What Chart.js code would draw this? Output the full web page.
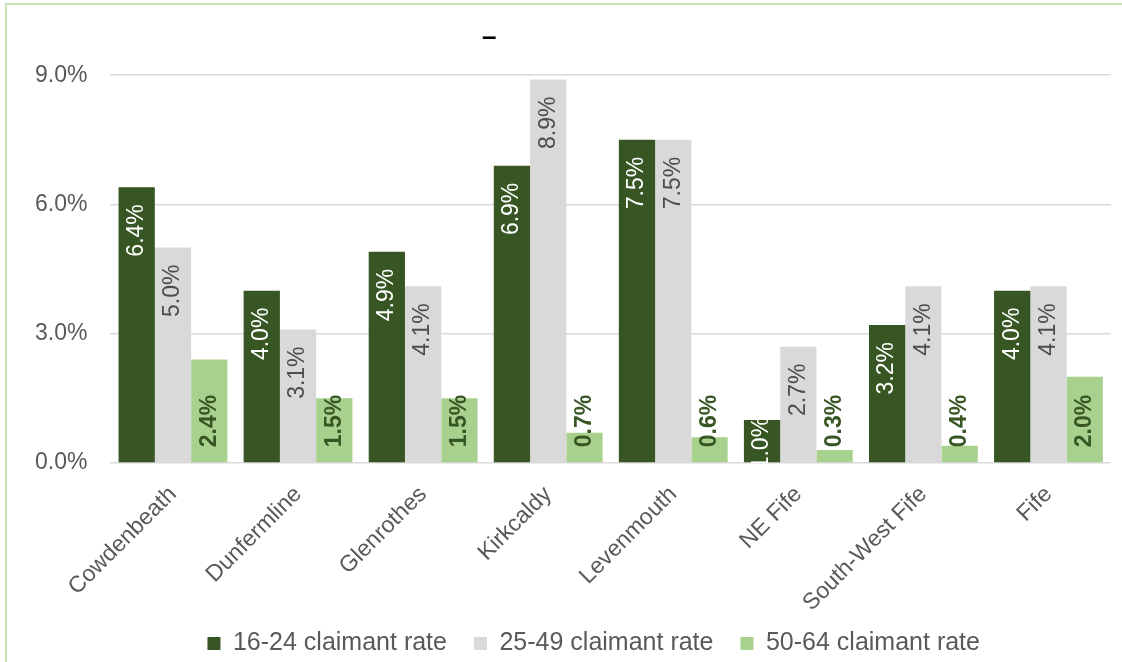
<!DOCTYPE html>
<html>
<head>
<meta charset="utf-8">
<script src="https://cdn.jsdelivr.net/npm/chart.js@4/dist/chart.umd.min.js"></script>
<style>
  html, body { margin: 0; padding: 0; background: #fff; }
  #wrap { position: relative; width: 1122px; height: 662px; overflow: hidden; }
  #frame {
    position: absolute; left: 5px; top: 3px; width: 1200px; height: 700px;
    border-left: 2px solid #c9e2b8; border-top: 2px solid #c9e2b8;
    pointer-events: none;
  }
  canvas { position: absolute; left: 0; top: 0; }
</style>
</head>
<body>
<div id="wrap">
  <canvas id="rates" width="1122" height="662"></canvas>
  <div id="frame"></div>
</div>
<script>
    const areas = ["Cowdenbeath", "Dunfermline", "Glenrothes", "Kirkcaldy", "Levenmouth", "NE Fife", "South-West Fife", "Fife"]
    const rate1624 = [6.4, 4.0, 4.9, 6.9, 7.5, 1.0, 3.2, 4.0]
    const rate2549 = [5.0, 3.1, 4.1, 8.9, 7.5, 2.7, 4.1, 4.1]
    const rate5064 = [2.4, 1.5, 1.5, 0.7, 0.6, 0.3, 0.4, 2.0]
    const yTicks = [0, 3, 6, 9]

    const FONT = "'Liberation Sans', Arial, sans-serif"
    Chart.defaults.font.family = FONT

    // how each series writes its value inside the bar
    const labelStyle = [
        { color: '#ffffff', weight: 'normal', at: 'end' },
        { color: '#4d4d4d', weight: 'normal', at: 'end' },
        { color: '#375623', weight: 'bold', at: 'base' }
    ]

    const barLabels = {
        id: 'barLabels',
        afterDatasetsDraw(chart) {
            const ctx = chart.ctx
            const area = chart.chartArea
            chart.data.datasets.forEach((ds, i) => {
                const style = labelStyle[i]
                const meta = chart.getDatasetMeta(i)
                meta.data.forEach((bar, j) => {
                    const text = ds.data[j].toFixed(1) + '%'
                    ctx.save()
                    ctx.beginPath()
                    ctx.rect(area.left, area.top, area.right - area.left, area.bottom - area.top)
                    ctx.clip()
                    ctx.font = `${style.weight} 23px ${FONT}`
                    ctx.fillStyle = style.color
                    ctx.textBaseline = 'middle'
                    const w = ctx.measureText(text).width
                    const len = bar.base - bar.y
                    ctx.translate(bar.x, bar.base)
                    ctx.rotate(-Math.PI / 2)
                    if (style.at === 'base') {
                        ctx.textAlign = 'left'
                        ctx.fillText(text, 15, 0)
                    } else {
                        ctx.textAlign = 'right'
                        // short bars: push the label up to the bar top
                        const end = (w + 17 <= len) ? len - 17 : len + 3
                        ctx.fillText(text, end, 0)
                    }
                    ctx.restore()
                })
            })
        }
    }

    const layoutTweaks = {
        id: 'layoutTweaks',
        afterLayout(chart) {
            // legend row sits a little left of the plot centre
            chart.legend.right -= 34
            // let the long rotated names run down past the axis box
            chart.scales.x.bottom += 30
        }
    }

    const ctx = document.querySelector('#rates').getContext('2d')

    new Chart(ctx, {
        type: 'bar',
        data: {
            labels: areas,
            datasets: [
                { label: '16-24 claimant rate', data: rate1624, backgroundColor: '#375623' },
                { label: '25-49 claimant rate', data: rate2549, backgroundColor: '#d9d9d9' },
                { label: '50-64 claimant rate', data: rate5064, backgroundColor: '#a9d18e' }
            ]
        },
        options: {
            responsive: false,
            animation: false,
            categoryPercentage: 0.87,
            barPercentage: 1,
            layout: { padding: { left: 12, right: 11, top: 0, bottom: -4 } },
            plugins: {
                title: {
                    display: true,
                    text: '\u2013' + '\u00a0'.repeat(20),
                    color: '#000',
                    font: { size: 26, weight: 'bold' },
                    padding: { top: 22, bottom: 22 }
                },
                legend: {
                    position: 'bottom',
                    fullSize: false,
                    labels: {
                        boxWidth: 13,
                        boxHeight: 13,
                        padding: 27,
                        color: '#595959',
                        font: { size: 25 }
                    }
                },
                tooltip: { enabled: false }
            },
            scales: {
                x: {
                    grid: { display: false },
                    border: { display: false },
                    ticks: {
                        color: '#595959',
                        font: { size: 23 },
                        maxRotation: 45,
                        minRotation: 45,
                        autoSkip: false,
                        padding: 10
                    },
                    afterFit: (scale) => {
                        // rotated names may hang past the plot edges
                        scale.paddingLeft = 0
                        scale.paddingRight = 0
                        scale.height = 141
                    }
                },
                y: {
                    min: 0,
                    max: 9,
                    afterBuildTicks: (scale) => {
                        scale.ticks = yTicks.map(v => ({ value: v }))
                    },
                    grid: { color: '#d9d9d9', lineWidth: 1.5, drawTicks: false },
                    border: { display: false },
                    ticks: {
                        color: '#595959',
                        font: { size: 23 },
                        padding: 23,
                        callback: (v) => v.toFixed(1) + '%'
                    }
                }
            }
        },
        plugins: [barLabels, layoutTweaks]
    })
</script>
</body>
</html>
